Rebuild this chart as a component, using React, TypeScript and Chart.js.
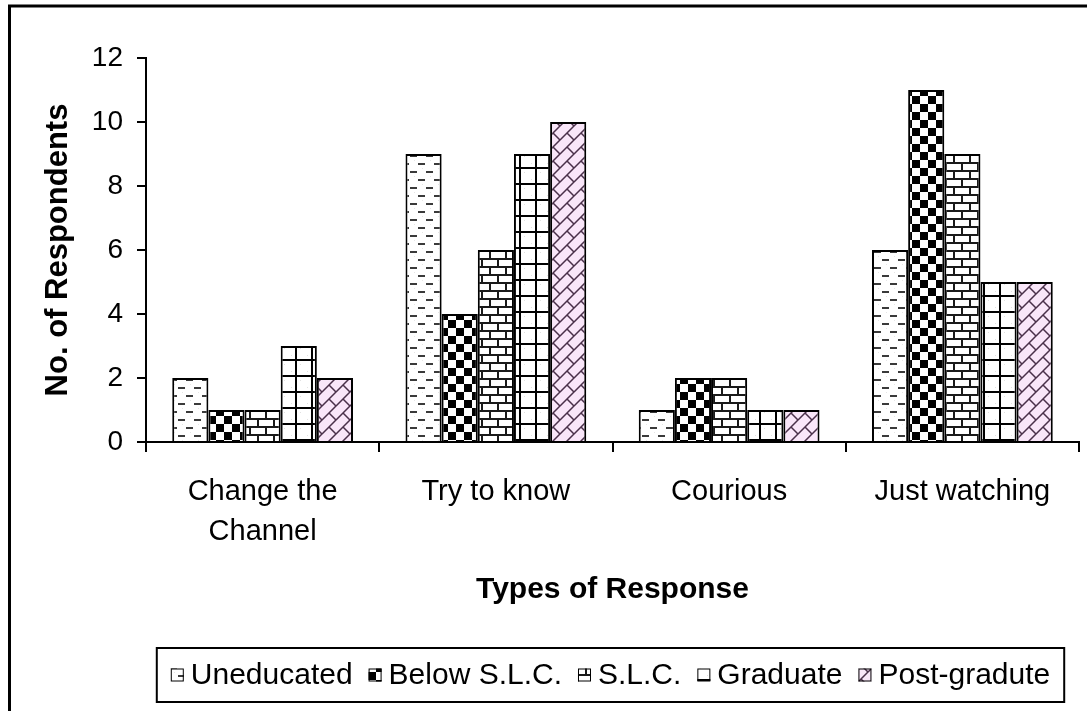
import React, { useEffect, useRef } from 'react';
import { Chart, registerables } from 'chart.js';

Chart.register(...registerables);

const FONT = '"Liberation Sans", Arial, Helvetica, sans-serif';

const categories: (string | string[])[] = [['Change the', 'Channel'], 'Try to know', 'Courious', 'Just watching'];
const seriesNames = ['Uneducated', 'Below S.L.C.', 'S.L.C.', 'Graduate', 'Post-gradute'];
const uneducated = [2, 9, 1, 6];
const belowSLC = [1, 4, 2, 11];
const slc = [1, 6, 2, 9];
const graduate = [3, 9, 1, 5];
const postGraduate = [2, 10, 1, 5];
const yMin = 0;
const yMax = 12;
const yStep = 2;
const xTitle = 'Types of Response';
const yTitle = 'No. of Respondents';

function tile(w: number, h: number, draw: (c: CanvasRenderingContext2D) => void): CanvasPattern {
  const cv = document.createElement('canvas');
  cv.width = w;
  cv.height = h;
  const c = cv.getContext('2d')!;
  draw(c);
  const p = document.createElement('canvas').getContext('2d')!.createPattern(cv, 'repeat')!;
  return p;
}

function makePatterns(): CanvasPattern[] {
  const dash = tile(16, 16, (c) => {
    c.fillStyle = '#fff';
    c.fillRect(0, 0, 16, 16);
    c.fillStyle = '#e6e6e6';
    c.fillRect(6, 8, 1, 1);
    c.fillRect(14, 0, 1, 1);
    c.strokeStyle = '#3a3a3a';
    c.lineWidth = 2;
    c.beginPath();
    c.moveTo(2, 4); c.lineTo(9, 4);
    c.moveTo(10, 12); c.lineTo(16, 12);
    c.moveTo(0, 12); c.lineTo(1, 12);
    c.stroke();
  });
  const check = tile(16, 16, (c) => {
    c.fillStyle = '#fff';
    c.fillRect(0, 0, 16, 16);
    c.fillStyle = '#000';
    c.fillRect(0, 0, 8, 8);
    c.fillRect(8, 8, 8, 8);
  });
  const brick = tile(16, 16, (c) => {
    c.fillStyle = '#fff';
    c.fillRect(0, 0, 16, 16);
    c.strokeStyle = '#1a1a1a';
    c.lineWidth = 2;
    c.beginPath();
    c.moveTo(0, 3); c.lineTo(16, 3);
    c.moveTo(0, 11); c.lineTo(16, 11);
    c.moveTo(2, 3); c.lineTo(2, 11);
    c.moveTo(10, 11); c.lineTo(10, 16);
    c.moveTo(10, 0); c.lineTo(10, 3);
    c.stroke();
  });
  const grid = tile(16, 16, (c) => {
    c.fillStyle = '#fff';
    c.fillRect(0, 0, 16, 16);
    c.fillStyle = '#e2e2e2';
    c.fillRect(3, 3, 1, 1);
    c.fillRect(12, 12, 1, 1);
    c.strokeStyle = '#000';
    c.lineWidth = 2;
    c.beginPath();
    c.moveTo(0, 8); c.lineTo(16, 8);
    c.moveTo(8, 0); c.lineTo(8, 16);
    c.stroke();
  });
  const diag = tile(14, 14, (c) => {
    c.fillStyle = '#f9e6f9';
    c.fillRect(0, 0, 14, 14);
    c.strokeStyle = '#4a304a';
    c.lineWidth = 1.5;
    c.beginPath();
    c.moveTo(-2, 16); c.lineTo(16, -2);
    c.moveTo(7, 7); c.lineTo(15, 15);
    c.moveTo(-1, -1); c.lineTo(0.5, 0.5);
    c.stroke();
  });
  return [dash, check, brick, grid, diag];
}

const framePlugin = {
  id: 'frameAndLegend',
  beforeDraw(chart: any) {
    const ctx = chart.ctx;
    ctx.save();
    ctx.fillStyle = '#fff';
    ctx.fillRect(0, 0, chart.width, chart.height);
    ctx.restore();
  },
  afterDraw(chart: any) {
    const ctx = chart.ctx as CanvasRenderingContext2D;
    const xs = chart.scales.x;
    const ca = chart.chartArea;
    ctx.save();
    // outer frame
    ctx.strokeStyle = '#000';
    ctx.lineWidth = 3;
    ctx.strokeRect(9.5, 6, chart.width + 50, chart.height + 50);
    // legend
    ctx.font = `30px ${FONT}`;
    const box = 13, gap = 7, itemGap = 16, padX = 14;
    const items = chart.data.datasets.map((ds: any) => ({
      label: ds.label as string,
      fill: ds.backgroundColor,
      w: ctx.measureText(ds.label).width,
    }));
    const total = items.reduce((a: number, it: any) => a + box + gap + it.w, 0) + itemGap * (items.length - 1);
    const cx = (ca.left + ca.right) / 2 - 2;
    const top = xs.bottom + 36;
    const h = 54;
    const cy = top + h / 2;
    let x = cx - total / 2;
    ctx.lineWidth = 2;
    ctx.strokeRect(x - padX, top, total + 2 * padX, h);
    ctx.textBaseline = 'middle';
    items.forEach((it: any) => {
      ctx.fillStyle = it.fill;
      ctx.fillRect(x, cy - box / 2, box, box);
      ctx.lineWidth = 1;
      ctx.strokeStyle = '#000';
      ctx.strokeRect(x + 0.5, cy - box / 2 + 0.5, box - 1, box - 1);
      ctx.fillStyle = '#000';
      ctx.fillText(it.label, x + box + gap, cy + 1);
      x += box + gap + it.w + itemGap;
    });
    ctx.restore();
  },
};

export default function App() {
  const ref = useRef<HTMLCanvasElement>(null);
  useEffect(() => {
    const canvas = ref.current!;
    const patterns = makePatterns();
    const series = [uneducated, belowSLC, slc, graduate, postGraduate];
    const chart = new Chart(canvas, {
      type: 'bar',
      data: {
        labels: categories as any,
        datasets: series.map((vals, i) => ({
          label: seriesNames[i],
          data: vals,
          backgroundColor: patterns[i] as any,
          borderColor: '#000',
          borderWidth: 2,
          categoryPercentage: 0.775,
          barPercentage: 1,
        })),
      },
      options: {
        responsive: false,
        maintainAspectRatio: false,
        animation: false,
        events: [],
        layout: { padding: { left: 20, top: 58, right: 8, bottom: 99 } },
        plugins: { legend: { display: false }, tooltip: { enabled: false } },
        scales: {
          x: {
            offset: true,
            grid: { offset: true, drawOnChartArea: false, drawTicks: true, tickLength: 10, color: '#000', lineWidth: 2 },
            border: { display: true, color: '#000', width: 2 },
            ticks: {
              font: { family: FONT, size: 29, lineHeight: 40 / 29 },
              color: '#000',
              padding: 20,
              maxRotation: 0,
              autoSkip: false,
            },
            title: {
              display: true,
              text: xTitle,
              color: '#000',
              font: { family: FONT, size: 30, weight: 'bold' },
              padding: { top: 0, bottom: 4 },
            },
            afterFit: (s: any) => { s.height = 170; },
          },
          y: {
            min: yMin,
            max: yMax,
            ticks: { stepSize: yStep, font: { family: FONT, size: 28 }, color: '#000', padding: 14 },
            grid: { drawOnChartArea: false, drawTicks: true, tickLength: 9, color: '#000', lineWidth: 2 },
            border: { display: true, color: '#000', width: 2 },
            title: {
              display: true,
              text: yTitle,
              color: '#000',
              font: { family: FONT, size: 31, weight: 'bold' },
              padding: { top: 20, bottom: 0 },
            },
            afterFit: (s: any) => { s.width = 126; },
          },
        },
      },
      plugins: [framePlugin],
    } as any);
    return () => chart.destroy();
  }, []);
  return (
    <div style={{ position: 'fixed', left: 0, top: 0, width: 1087, height: 711, background: '#fff' }}>
      <canvas ref={ref} width={1087} height={711} style={{ display: 'block', width: 1087, height: 711 }} />
    </div>
  );
}
